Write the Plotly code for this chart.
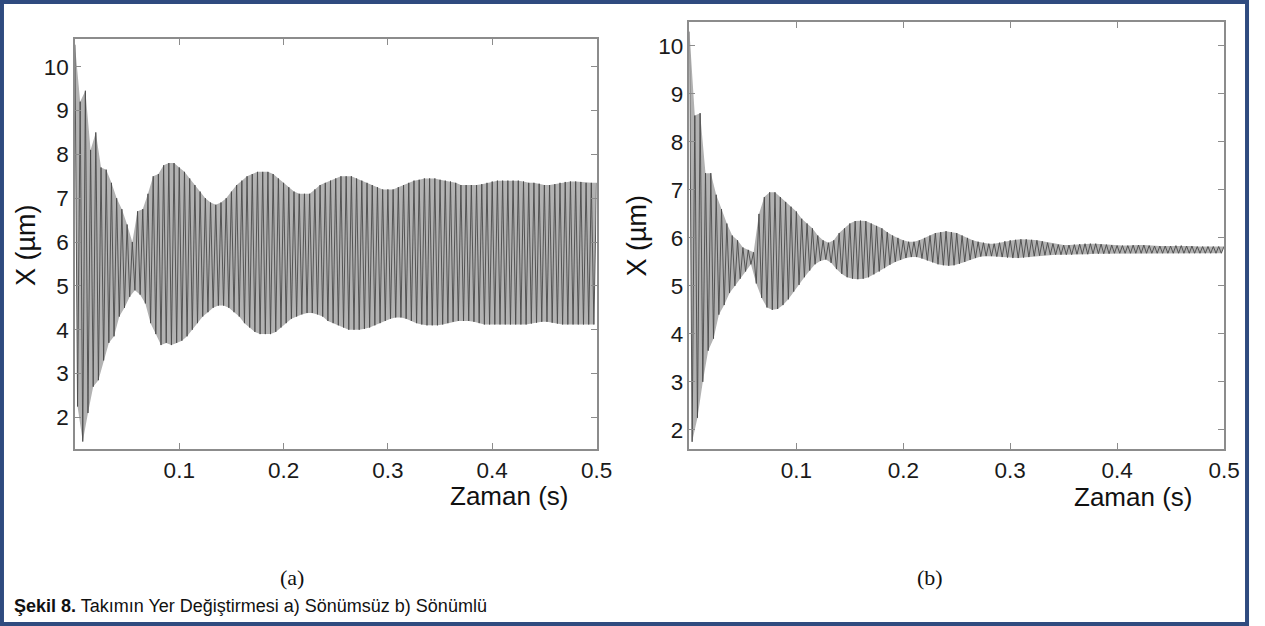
import numpy as np
import plotly.graph_objects as go

# ---------------- data ----------------
# Peaks (local maxima) every 0.005 s starting at t = 0, troughs (local minima) halfway between.
a_peaks = [10.5, 9.2, 9.45, 8.1, 8.5, 7.7, 7.65, 7.35, 7.0, 6.75,
           6.4, 6.0, 6.7, 6.75, 7.1, 7.5, 7.55, 7.75, 7.8, 7.8,
           7.7, 7.6, 7.45, 7.3, 7.15, 7.0, 6.9, 6.85, 6.9, 7.0,
           7.15, 7.3, 7.4, 7.5, 7.55, 7.6, 7.6, 7.6, 7.55, 7.45,
           7.35, 7.25, 7.15, 7.1, 7.1, 7.1, 7.2, 7.3, 7.35, 7.4,
           7.45, 7.5, 7.5, 7.5, 7.45, 7.4, 7.35, 7.3, 7.25, 7.2,
           7.2, 7.2, 7.25, 7.3, 7.35, 7.4, 7.42, 7.45, 7.45, 7.45,
           7.42, 7.4, 7.38, 7.35, 7.3, 7.3, 7.3, 7.3, 7.32, 7.35,
           7.38, 7.4, 7.4, 7.4, 7.4, 7.4, 7.38, 7.35, 7.35, 7.33,
           7.3, 7.3, 7.32, 7.35, 7.37, 7.38, 7.38, 7.37, 7.35, 7.35,
           7.35]
a_troughs = [2.25, 1.45, 2.1, 2.7, 2.85, 3.3, 3.7, 3.85, 4.3, 4.5,
             4.75, 4.9, 4.8, 4.6, 4.15, 3.9, 3.65, 3.7, 3.65, 3.7,
             3.75, 3.85, 4.0, 4.15, 4.3, 4.4, 4.5, 4.55, 4.55, 4.5,
             4.4, 4.3, 4.15, 4.05, 3.95, 3.9, 3.9, 3.9, 3.95, 4.05,
             4.15, 4.25, 4.3, 4.35, 4.38, 4.38, 4.35, 4.3, 4.2, 4.15,
             4.1, 4.05, 4.0, 4.0, 4.0, 4.02, 4.05, 4.1, 4.15, 4.2,
             4.25, 4.28, 4.28, 4.25, 4.2, 4.15, 4.12, 4.1, 4.1, 4.1,
             4.12, 4.15, 4.18, 4.2, 4.2, 4.2, 4.18, 4.15, 4.12, 4.12,
             4.12, 4.12, 4.12, 4.12, 4.12, 4.12, 4.12, 4.14, 4.16, 4.18,
             4.18, 4.16, 4.14, 4.12, 4.12, 4.12, 4.12, 4.12, 4.12, 4.12]

b_peaks = [10.3, 8.55, 8.6, 7.35, 7.35, 6.9, 6.6, 6.3, 6.05, 5.95,
           5.8, 5.75, 5.7, 6.5, 6.85, 6.95, 6.95, 6.85, 6.75, 6.65,
           6.55, 6.4, 6.3, 6.2, 6.05, 5.95, 5.9, 5.95, 6.1, 6.2,
           6.3, 6.35, 6.36, 6.35, 6.3, 6.25, 6.2, 6.12, 6.05, 6.0,
           5.95, 5.92, 5.92, 5.95, 6.0, 6.05, 6.1, 6.12, 6.14, 6.12,
           6.1, 6.05, 6.0, 5.95, 5.92, 5.9, 5.88, 5.88, 5.9, 5.93,
           5.95, 5.96, 5.97, 5.97, 5.96, 5.95, 5.93, 5.9, 5.88, 5.86,
           5.85, 5.85, 5.86, 5.87, 5.88, 5.88, 5.88, 5.87, 5.86, 5.85,
           5.84, 5.84, 5.84, 5.85, 5.85, 5.85, 5.84, 5.83, 5.83, 5.83,
           5.83, 5.84, 5.84, 5.83, 5.83, 5.82, 5.82, 5.82, 5.82, 5.82,
           5.82]
b_troughs = [1.75, 2.25, 3.0, 3.65, 3.9, 4.4, 4.6, 4.85, 5.0, 5.15,
             5.3, 5.45, 5.05, 4.75, 4.55, 4.5, 4.52, 4.6, 4.72, 4.88,
             5.02, 5.18, 5.32, 5.45, 5.52, 5.55, 5.48, 5.35, 5.25, 5.18,
             5.15, 5.14, 5.15, 5.18, 5.24, 5.3, 5.37, 5.44, 5.5, 5.54,
             5.58, 5.6, 5.6, 5.57, 5.53, 5.49, 5.45, 5.43, 5.42, 5.43,
             5.46, 5.5, 5.54, 5.58, 5.61, 5.62, 5.62, 5.61, 5.6, 5.59,
             5.58, 5.58, 5.59, 5.6, 5.62, 5.63, 5.64, 5.65, 5.65, 5.65,
             5.65, 5.65, 5.66, 5.66, 5.66, 5.67, 5.67, 5.67, 5.67, 5.68,
             5.68, 5.68, 5.68, 5.68, 5.68, 5.68, 5.68, 5.68, 5.68, 5.68,
             5.68, 5.68, 5.68, 5.68, 5.68, 5.68, 5.68, 5.68, 5.68, 5.68]

sample_step = 0.005
x_tick_vals = [0.1, 0.2, 0.3, 0.4, 0.5]
x_tick_text = ["0.1", "0.2", "0.3", "0.4", "0.5"]
y_tick_vals = [2, 3, 4, 5, 6, 7, 8, 9, 10]
y_tick_text = ["2", "3", "4", "5", "6", "7", "8", "9", "10"]

x_title = "Zaman (s)"
y_title = "X (µm)"
panel_labels = ["(a)", "(b)"]
caption_bold = "Şekil 8."
caption_rest = " Takımın Yer Değiştirmesi a) Sönümsüz b) Sönümlü"


def interleave(peaks, troughs):
    t_peaks = np.arange(len(peaks)) * sample_step
    t_troughs = np.arange(len(troughs)) * sample_step + sample_step / 2
    t, v = [], []
    for i in range(len(peaks)):
        t.append(t_peaks[i]); v.append(peaks[i])
        if i < len(troughs):
            t.append(t_troughs[i]); v.append(troughs[i])
    return t, v


W, H = 1265, 626
# horizontal layout reference width (the captured frame shows the page slightly narrowed)
XREF_W = 1250
def px(x):
    return min(x / XREF_W, 1.0)
def py(y):
    return 1 - y / H

fig = go.Figure()
for peaks, troughs, xa, ya in [(a_peaks, a_troughs, "x", "y"), (b_peaks, b_troughs, "x2", "y2")]:
    tp = list(np.arange(len(peaks)) * sample_step)
    tt = list(np.arange(len(troughs)) * sample_step + sample_step / 2)
    # grey band between the two envelopes
    fig.add_trace(go.Scatter(x=tp, y=peaks, mode="lines", line=dict(width=0, color="#b2b2b2"),
                             xaxis=xa, yaxis=ya, showlegend=False, hoverinfo="skip"))
    fig.add_trace(go.Scatter(x=tt, y=troughs, mode="lines", line=dict(width=0, color="#b2b2b2"),
                             fill="tonexty", fillcolor="#b2b2b2",
                             xaxis=xa, yaxis=ya, showlegend=False, hoverinfo="skip"))
    t, v = interleave(peaks, troughs)
    fig.add_trace(go.Scatter(x=t, y=v, mode="lines", line=dict(color="#4a4a4a", width=0.9),
                             xaxis=xa, yaxis=ya, showlegend=False, hoverinfo="skip"))

tick_font = dict(family="Liberation Sans, Arial, sans-serif", size=22.5, color="#1a1a1a")
axis_common = dict(showgrid=False, zeroline=False, showline=True, linecolor="#8c8c8c",
                   linewidth=1.5, mirror="ticks", ticks="inside", ticklen=6,
                   tickcolor="#8c8c8c", tickwidth=1, tickfont=tick_font)

fig.update_layout(
    width=W, height=H, autosize=False,
    margin=dict(l=0, r=0, t=0, b=0),
    paper_bgcolor="white", plot_bgcolor="white",
    xaxis=dict(domain=[px(75), px(597)], range=[0, 0.5], anchor="y",
               tickvals=x_tick_vals, ticktext=x_tick_text, **axis_common),
    yaxis=dict(domain=[py(449), py(39)], range=[1.28, 10.63], anchor="x",
               tickvals=y_tick_vals, ticktext=y_tick_text, **axis_common),
    xaxis2=dict(domain=[px(690), px(1225)], range=[0, 0.5], anchor="y2",
                tickvals=x_tick_vals, ticktext=x_tick_text, **axis_common),
    yaxis2=dict(domain=[py(449), py(22)], range=[1.6, 10.5], anchor="x2",
                tickvals=y_tick_vals, ticktext=y_tick_text, **axis_common),
)

title_font = dict(family="Liberation Sans, Arial, sans-serif", size=26, color="#111111")
ann = []
for xc, yc in [(509, 496), (1134, 497)]:
    ann.append(dict(text=x_title, x=px(xc), y=py(yc), xref="paper", yref="paper",
                    showarrow=False, xanchor="center", yanchor="middle", font=title_font))
for xc, yc in [(26, 245), (638, 235)]:
    ann.append(dict(text=y_title, x=px(xc), y=py(yc), xref="paper", yref="paper",
                    showarrow=False, xanchor="center", yanchor="middle", textangle=-90,
                    font=dict(family="Liberation Sans, Arial, sans-serif", size=27,
                              color="#111111")))
for lab, xc in zip(panel_labels, [292, 931]):
    ann.append(dict(text=lab, x=px(xc), y=py(577), xref="paper", yref="paper",
                    showarrow=False, xanchor="center", yanchor="middle",
                    font=dict(family="Liberation Serif, Times New Roman, serif", size=22,
                              color="#111111")))
ann.append(dict(text="<b>" + caption_bold + "</b>" + caption_rest, x=px(12), y=py(606),
                xref="paper", yref="paper", showarrow=False, xanchor="left",
                yanchor="middle",
                font=dict(family="Liberation Sans, Arial, sans-serif", size=18,
                          color="#111111")))
fig.update_layout(annotations=ann)

fig.add_shape(type="rect", xref="paper", yref="paper",
              x0=2 / W, x1=1 - 2 / W, y0=py(H - 2), y1=py(2),
              line=dict(color="#2f4b7f", width=4), fillcolor="rgba(0,0,0,0)")

fig.write_html("out.html")

# keep the page free of margins and scrollbars
with open("out.html", "r", encoding="utf-8") as f:
    html = f.read()
html = html.replace("<head>", "<head><style>html,body{margin:0;padding:0;overflow:hidden;}</style>", 1)
with open("out.html", "w", encoding="utf-8") as f:
    f.write(html)
